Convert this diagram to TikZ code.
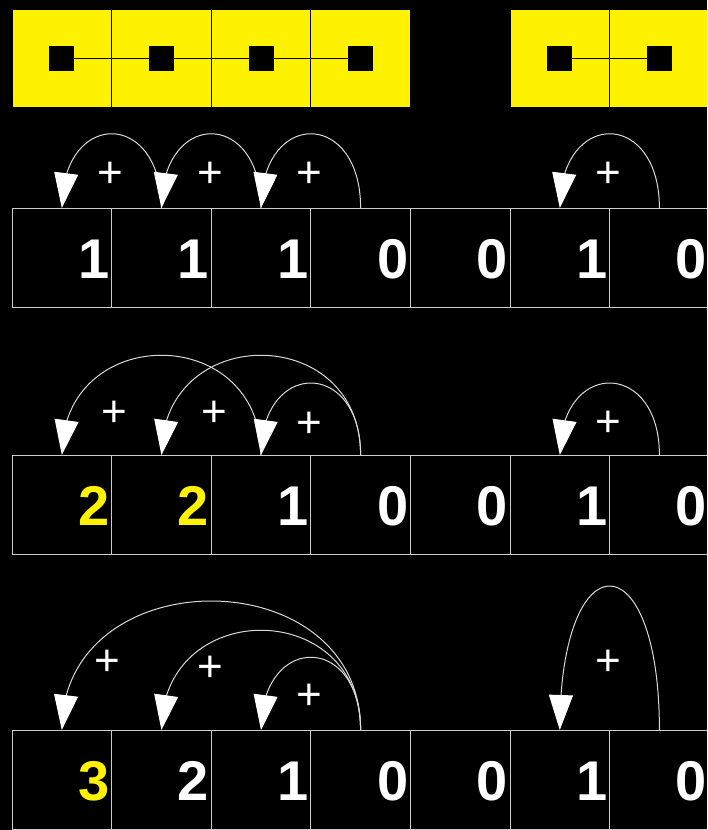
\documentclass[tikz,border=0pt]{standalone}
\usepackage{fontspec}
\setmainfont{Liberation Sans}
\usetikzlibrary{arrows.meta,bending,calc}
\begin{document}
\begin{tikzpicture}[x=1pt,y=-1pt,
  cell/.style={draw=white!80!black,line width=1pt,minimum width=99.6pt,minimum height=99.6pt,inner sep=0pt,outer sep=0pt},
  ycell/.style={draw=black,fill=yellow,line width=1pt,minimum width=99.6pt,minimum height=98pt,inner sep=0pt,outer sep=0pt},
  sq/.style={fill=black,minimum size=25pt,inner sep=0pt,outer sep=0pt},
  digit/.style={anchor=base east,inner sep=0pt,font=\bfseries\fontsize{56}{56}\selectfont},
  plus/.style={anchor=base,inner sep=0pt,text=white,font=\fontsize{44}{44}\selectfont},
  arc/.style={draw=white!85!black,line width=1pt,-{Triangle[length=35pt,width=24pt,flex,color=white]}}]
\useasboundingbox (0,0) rectangle (707,830);
\clip (0,0) rectangle (707,830);
\fill[black] (0,0) rectangle (707,830);
% yellow top
\foreach \k in {1,2,3,4,6,7} {
  \node[ycell] (y\k) at ({61.8+99.6*(\k-1)},58) {};
}
\draw[black,line width=1pt] (y1.center) -- (y4.center);
\draw[black,line width=1pt] (y6.center) -- (y7.center);
\foreach \k in {1,2,3,4,6,7} {
  \node[sq] (s\k) at (y\k.center) {};
}
% cells
\foreach \r/\top in {1/208,2/455,3/730} {
  \foreach \k in {1,...,7} {
    \node[cell] (c\r\k) at ({61.8+99.6*(\k-1)},{\top+49.8}) {};
  }
}
% digits
\foreach \k/\d/\c in {1/1/white,2/1/white,3/1/white,4/0/white,5/0/white,6/1/white,7/0/white}
  \node[digit,text=\c] (d1\k) at ($(c1\k.north east)+(-2,70)$) {\d};
\foreach \k/\d/\c in {1/2/yellow,2/2/yellow,3/1/white,4/0/white,5/0/white,6/1/white,7/0/white}
  \node[digit,text=\c] (d2\k) at ($(c2\k.north east)+(-2,70)$) {\d};
\foreach \k/\d/\c in {1/3/yellow,2/2/white,3/1/white,4/0/white,5/0/white,6/1/white,7/0/white}
  \node[digit,text=\c] (d3\k) at ($(c3\k.north east)+(-2,70)$) {\d};
% arcs row 1
\draw[arc] (c12.north) .. controls +(0,-99) and +(0,-99) .. (c11.north);
\draw[arc] (c13.north) .. controls +(0,-99) and +(0,-99) .. (c12.north);
\draw[arc] (c14.north) .. controls +(0,-99) and +(0,-99) .. (c13.north);
\draw[arc] (c17.north) .. controls +(0,-99) and +(0,-99) .. (c16.north);
% arcs row 2
\draw[arc] (c23.north) .. controls +(0,-133) and +(0,-133) .. (c21.north);
\draw[arc] (c24.north) .. controls +(0,-133) and +(0,-133) .. (c22.north);
\draw[arc] (c24.north) .. controls +(0,-96) and +(0,-96) .. (c23.north);
\draw[arc] (c27.north) .. controls +(0,-96) and +(0,-96) .. (c26.north);
% arcs row 3
\draw[arc] (c34.north) .. controls +(0,-172) and +(0,-172) .. (c31.north);
\draw[arc] (c34.north) .. controls +(0,-133) and +(0,-133) .. (c32.north);
\draw[arc] (c34.north) .. controls +(0,-97) and +(0,-97) .. (c33.north);
\draw[arc] (c37.north) .. controls +(0,-192) and +(0,-192) .. (c36.north);
% plus signs
\foreach \n/\x/\y in {11/110/172,12/210/172,13/309/172,14/608/172,
                     21/114/411,22/214/411,23/309/422,24/608/421,
                     31/107/660,32/210/666,33/309/694,34/608/660}
  \node[plus] (p\n) at (\x,{\y+15.5}) {+};
\end{tikzpicture}
\end{document}
